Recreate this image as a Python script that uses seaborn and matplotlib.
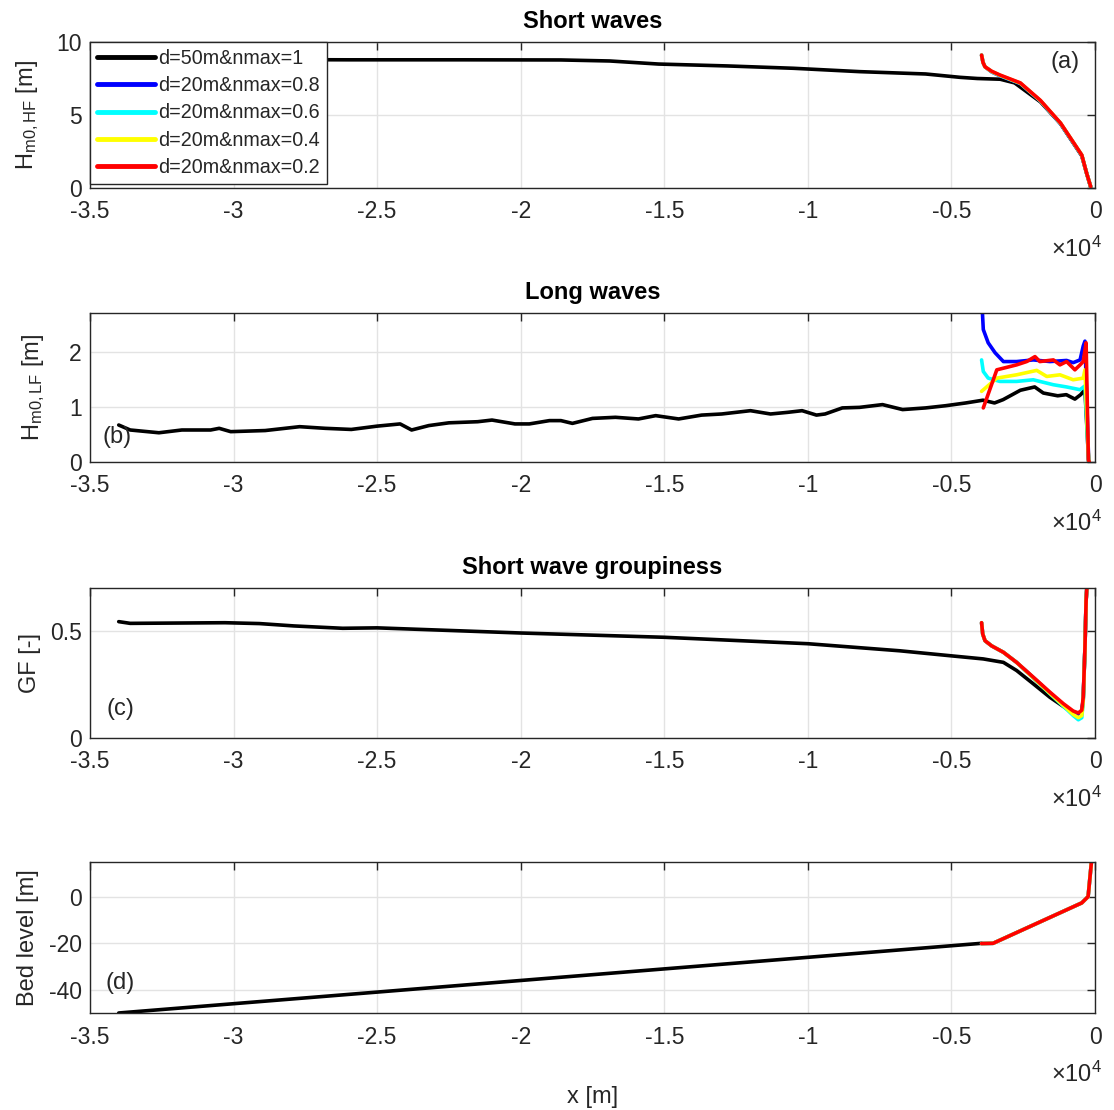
import numpy as np
import pandas as pd
import matplotlib
matplotlib.use("Agg")
import matplotlib.pyplot as plt
import seaborn as sns

# ---------------- data (x in units of 1e4 m) ----------------
labels = ["d=50m&nmax=1", "d=20m&nmax=0.8", "d=20m&nmax=0.6",
          "d=20m&nmax=0.4", "d=20m&nmax=0.2"]
colors = ["#000000", "#0000FF", "#00FFFF", "#FFFF00", "#FF0000"]

xtick_vals = [-3.5, -3, -2.5, -2, -1.5, -1, -0.5, 0]
xtick_labels = ["-3.5", "-3", "-2.5", "-2", "-1.5", "-1", "-0.5", "0"]

# (a) short waves Hm0,HF
a_black_x = [-3.40, -3.0, -2.6, -2.2, -1.86, -1.69, -1.52, -1.28, -1.05, -0.82,
             -0.59, -0.47, -0.41, -0.33, -0.28, -0.19, -0.12, -0.046, -0.029, -0.015]
a_black_y = [8.8, 8.8, 8.78, 8.78, 8.77, 8.70, 8.49, 8.36, 8.2, 7.97,
             7.81, 7.58, 7.5, 7.45, 7.2, 5.9, 4.4, 2.2, 1.0, 0.05]
a_col_x = [-0.395, -0.39, -0.383, -0.36, -0.331, -0.26, -0.19, -0.12, -0.046, -0.029, -0.015]
a_blue_y = [9.1, 8.6, 8.3, 7.95, 7.68, 7.15, 5.95, 4.4, 2.22, 1.0, 0.1]
a_cyan_y = [9.1, 8.6, 8.3, 7.97, 7.7, 7.17, 5.97, 4.42, 2.24, 1.0, 0.1]
a_yellow_y = [9.1, 8.6, 8.3, 7.98, 7.72, 7.18, 5.98, 4.44, 2.25, 1.0, 0.1]
a_red_y = [9.1, 8.6, 8.3, 8.0, 7.74, 7.2, 6.0, 4.45, 2.26, 1.0, 0.1]

# (b) long waves Hm0,LF
b_black_x = [-3.40, -3.36, -3.26, -3.18, -3.08, -3.05, -3.01, -2.89, -2.77, -2.68,
             -2.59, -2.50, -2.42, -2.38, -2.32, -2.25, -2.15, -2.10, -2.02, -1.97,
             -1.90, -1.86, -1.82, -1.75, -1.67, -1.59, -1.53, -1.45, -1.37, -1.30,
             -1.20, -1.13, -1.07, -1.02, -0.97, -0.94, -0.88, -0.82, -0.74, -0.67,
             -0.59, -0.52, -0.45, -0.39, -0.35, -0.32, -0.26, -0.21, -0.18, -0.13,
             -0.10, -0.07, -0.05, -0.035, -0.022]
b_black_y = [0.67, 0.58, 0.53, 0.58, 0.58, 0.61, 0.55, 0.57, 0.64, 0.61,
             0.59, 0.65, 0.69, 0.58, 0.66, 0.71, 0.73, 0.76, 0.69, 0.69,
             0.75, 0.75, 0.70, 0.79, 0.81, 0.78, 0.84, 0.78, 0.85, 0.87,
             0.93, 0.87, 0.90, 0.93, 0.85, 0.87, 0.98, 0.99, 1.04, 0.95,
             0.98, 1.02, 1.07, 1.12, 1.07, 1.13, 1.30, 1.36, 1.25, 1.20,
             1.22, 1.14, 1.22, 1.31, 0.0]
b_blue_x = [-0.395, -0.389, -0.372, -0.348, -0.319, -0.273, -0.215, -0.157, -0.099,
            -0.076, -0.052, -0.041, -0.035, -0.022]
b_blue_y = [3.0, 2.40, 2.16, 1.98, 1.82, 1.82, 1.85, 1.82, 1.84, 1.80, 1.85, 2.10, 2.19, 0.0]
b_cyan_x = [-0.395, -0.389, -0.372, -0.331, -0.273, -0.215, -0.192, -0.145, -0.099,
            -0.052, -0.035, -0.022]
b_cyan_y = [1.85, 1.64, 1.52, 1.46, 1.46, 1.49, 1.46, 1.40, 1.36, 1.31, 1.38, 0.0]
b_yellow_x = [-0.395, -0.342, -0.273, -0.203, -0.168, -0.122, -0.076, -0.041, -0.035, -0.022]
b_yellow_y = [1.28, 1.52, 1.58, 1.66, 1.55, 1.58, 1.49, 1.52, 1.67, 0.0]
b_red_x = [-0.389, -0.342, -0.319, -0.273, -0.238, -0.209, -0.192, -0.145, -0.122,
           -0.099, -0.070, -0.052, -0.041, -0.031, -0.023, -0.02]
b_red_y = [0.98, 1.67, 1.70, 1.76, 1.82, 1.91, 1.82, 1.85, 1.76,
           1.82, 1.67, 1.76, 1.82, 2.16, 0.04, 0.0]

# (c) groupiness GF
c_black_x = [-3.40, -3.36, -3.03, -2.91, -2.79, -2.62, -2.5, -2.0, -1.5, -1.0,
             -0.68, -0.505, -0.389, -0.319, -0.273, -0.215, -0.157, -0.099, -0.064,
             -0.046, -0.041, -0.035, -0.031, -0.026]
c_black_y = [0.543, 0.535, 0.538, 0.534, 0.523, 0.512, 0.514, 0.49, 0.47, 0.44,
             0.407, 0.384, 0.369, 0.353, 0.315, 0.253, 0.19, 0.137, 0.114,
             0.12, 0.18, 0.42, 0.64, 0.76]
c_col_x = [-0.395, -0.391, -0.383, -0.36, -0.319, -0.273, -0.215, -0.157, -0.11,
           -0.076, -0.058, -0.046, -0.041, -0.035, -0.031, -0.026]
c_blue_y = [0.538, 0.485, 0.454, 0.43, 0.40, 0.353, 0.282, 0.21, 0.155, 0.12, 0.108, 0.12, 0.185, 0.42, 0.64, 0.76]
c_cyan_y = [0.538, 0.485, 0.454, 0.43, 0.40, 0.353, 0.280, 0.207, 0.148, 0.105, 0.085, 0.095, 0.17, 0.42, 0.64, 0.76]
c_yellow_y = [0.538, 0.485, 0.454, 0.43, 0.40, 0.353, 0.281, 0.209, 0.152, 0.11, 0.095, 0.105, 0.175, 0.42, 0.64, 0.76]
c_red_y = [0.538, 0.485, 0.454, 0.43, 0.40, 0.353, 0.284, 0.214, 0.16, 0.126, 0.117, 0.13, 0.19, 0.42, 0.64, 0.76]

# (d) bed level
d_black_x = [-3.40, -2.0, -0.395]
d_black_y = [-50.0, -36.0, -20.0]
d_col_x = [-0.395, -0.355, -0.046, -0.024, -0.012]
d_col_y = [-20.1, -20.0, -2.6, 0.1, 15.5]

# ---------------- styling ----------------
sns.set_theme(style="white")
plt.rcParams["font.family"] = ["Liberation Sans", "DejaVu Sans"]
plt.rcParams["mathtext.fontset"] = "custom"
plt.rcParams["mathtext.rm"] = "Liberation Sans"
plt.rcParams["mathtext.it"] = "Liberation Sans"
plt.rcParams["axes.unicode_minus"] = False
TXT = "#262626"
FS_TICK = 16.5
FS_LAB = 17
FS_TITLE = 17

fig = plt.figure(figsize=(11.14, 11.10), dpi=100)
W, H = 1114.0, 1110.0
L, R = 90, 1095
boxes = [(42, 188), (313, 462), (588, 738), (862, 1013)]
axes = [fig.add_axes([L / W, 1 - b / H, (R - L) / W, (b - t) / H]) for t, b in boxes]

LW = 2.6


def draw(ax, xs, ys, color, label=None):
    df = pd.DataFrame({"x": np.asarray(xs) * 1e4, "y": ys})
    sns.lineplot(data=df, x="x", y="y", ax=ax, color=color, lw=LW, sort=False,
                 estimator=None, label=label, legend=False)


# (a)
ax = axes[0]
draw(ax, a_black_x, a_black_y, colors[0], labels[0])
draw(ax, a_col_x, a_blue_y, colors[1], labels[1])
draw(ax, a_col_x, a_cyan_y, colors[2], labels[2])
draw(ax, a_col_x, a_yellow_y, colors[3], labels[3])
draw(ax, a_col_x, a_red_y, colors[4], labels[4])
ax.set_ylim(0, 10)
ax.set_yticks([0, 5, 10])
ax.set_ylabel(r"H$_{\mathrm{m0,HF}}$ [m]", fontsize=FS_LAB, color=TXT, labelpad=11)
ax.set_title("Short waves", fontsize=FS_TITLE, fontweight="bold", color="black", pad=10)
leg = ax.legend(loc="upper left", fontsize=14.2, handlelength=2.95, handletextpad=0.15,
                labelspacing=0.42, borderaxespad=0.0, borderpad=0.35, fancybox=False,
                framealpha=1, edgecolor=TXT)
leg.get_frame().set_linewidth(1.0)
for lh in leg.get_lines():
    lh.set_linewidth(3.5)
for t in leg.get_texts():
    t.set_color(TXT)

# (b)
ax = axes[1]
draw(ax, b_black_x, b_black_y, colors[0])
draw(ax, b_blue_x, b_blue_y, colors[1])
draw(ax, b_cyan_x, b_cyan_y, colors[2])
draw(ax, b_yellow_x, b_yellow_y, colors[3])
draw(ax, b_red_x, b_red_y, colors[4])
ax.set_ylim(0, 2.7)
ax.set_yticks([0, 1, 2])
ax.set_ylabel(r"H$_{\mathrm{m0,LF}}$ [m]", fontsize=FS_LAB, color=TXT, labelpad=16)
ax.set_title("Long waves", fontsize=FS_TITLE, fontweight="bold", color="black", pad=10)

# (c)
ax = axes[2]
draw(ax, c_black_x, c_black_y, colors[0])
draw(ax, c_col_x, c_blue_y, colors[1])
draw(ax, c_col_x, c_cyan_y, colors[2])
draw(ax, c_col_x, c_yellow_y, colors[3])
draw(ax, c_col_x, c_red_y, colors[4])
ax.set_ylim(0, 0.7)
ax.set_yticks([0, 0.5])
ax.set_yticklabels(["0", "0.5"])
ax.set_ylabel("GF [-]", fontsize=FS_LAB, color=TXT, labelpad=6)
ax.set_title("Short wave groupiness", fontsize=FS_TITLE, fontweight="bold", color="black", pad=10)

# (d)
ax = axes[3]
draw(ax, d_black_x, d_black_y, colors[0])
for c in colors[1:]:
    draw(ax, d_col_x, d_col_y, c)
ax.set_ylim(-50, 15)
ax.set_yticks([-40, -20, 0])
ax.set_ylabel("Bed level [m]", fontsize=FS_LAB, color=TXT, labelpad=7)
ax.set_xlabel("x [m]", fontsize=FS_LAB, color=TXT, labelpad=27)

panel_txt = [("(a)", 0.97, 0.86), ("(b)", 0.027, 0.17), ("(c)", 0.03, 0.19), ("(d)", 0.03, 0.2)]
for i, ax in enumerate(axes):
    ax.set_xlim(-35000, 0)
    ax.set_xticks([v * 1e4 for v in xtick_vals])
    ax.set_xticklabels(xtick_labels)
    if i < 3:
        ax.set_xlabel("")
    ax.grid(True, color="#e3e3e3", lw=1.0)
    ax.set_axisbelow(True)
    ax.tick_params(axis="both", direction="in", length=6, width=1.0, colors=TXT,
                   labelsize=FS_TICK, top=True, right=True)
    ax.tick_params(axis="x", pad=9)
    ax.tick_params(axis="y", pad=6)
    for s in ax.spines.values():
        s.set_color(TXT)
        s.set_linewidth(1.0)
        s.set_visible(True)
    t, x, y = panel_txt[i]
    ax.text(x, y, t, transform=ax.transAxes, fontsize=FS_LAB, color=TXT,
            ha="center", va="center")
    ax.annotate(r"$\times 10^{4}$", xy=(1, 0), xycoords="axes fraction",
                xytext=(7, -61), textcoords="offset pixels", ha="right",
                va="center", fontsize=FS_LAB, color=TXT)

fig.savefig("out.png", dpi=100)
